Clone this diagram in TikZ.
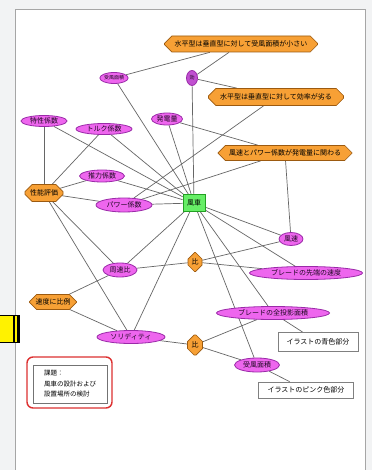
\documentclass[tikz,border=0pt]{standalone}
\usepackage{fontspec}
\setmainfont{Noto Sans CJK JP}
\usepackage{xcolor}
\usetikzlibrary{shapes.geometric}
\usetikzlibrary{shapes.misc}
\usetikzlibrary{backgrounds}

\definecolor{hexfill}{HTML}{F7A035}
\definecolor{hexline}{HTML}{9C5A10}
\definecolor{ellfill}{HTML}{EE66EE}
\definecolor{ellline}{HTML}{9A2AA8}
\definecolor{kouFill}{HTML}{C050D0}
\definecolor{carFill}{HTML}{66EE66}
\definecolor{carLine}{HTML}{22A022}
\definecolor{edgeGrey}{HTML}{666666}
\definecolor{noteRed}{HTML}{DD3030}
\definecolor{paneBack}{HTML}{F2F3F4}

\begin{document}
\begin{tikzpicture}[x=1pt, y=-1pt,
  every node/.style={font=\fontsize{7}{8}\selectfont, inner sep=0pt},
  hexa/.style={chamfered rectangle, chamfered rectangle xsep=4pt,
    chamfered rectangle ysep=4pt, draw=hexline, fill=hexfill, line width=0.7pt},
  oval/.style={ellipse, draw=ellline, fill=ellfill, line width=0.8pt, text=black!80!ellline},
  plain/.style={rectangle, draw=black!50, fill=white, line width=0.7pt},
  link/.style={draw=edgeGrey, line width=0.7pt}]

\useasboundingbox (0,0) rectangle (372,470);

% upper part
\node[hexa, minimum width=153, minimum height=16] (h1) at (241,44) {水平型は垂直型に対して受風面積が小さい};
\node[oval, minimum width=27, minimum height=11, font=\fontsize{5}{6}\selectfont] (aTop) at (114,78) {受風面積};
\node[oval, fill=kouFill, minimum width=11, minimum height=15, font=\fontsize{5}{6}\selectfont] (kou) at (192,78) {効};
\node[hexa, minimum width=135, minimum height=17] (h2) at (276,97) {水平型は垂直型に対して効率が劣る};
\node[oval, minimum width=31, minimum height=12] (hatsu) at (167,119) {発電量};
\node[oval, minimum width=46, minimum height=11] (tokusei) at (44,121) {特性係数};
\node[oval, minimum width=56, minimum height=11] (torque) at (104,129) {トルク係数};
\node[hexa, minimum width=134, minimum height=15] (h3) at (285,153) {風速とパワー係数が発電量に関わる};

% middle part
\node[oval, minimum width=45, minimum height=12] (suiryoku) at (102,176) {推力係数};
\node[hexa, minimum width=38, minimum height=17] (h4) at (44,193) {性能評価};
\node[oval, minimum width=56, minimum height=14] (power) at (124,205) {パワー係数};
\node[rectangle, draw=carLine, fill=carFill, line width=0.8pt, minimum width=22, minimum height=17] (fusha) at (194,203) {風車};
\node[oval, minimum width=24, minimum height=13] (fusoku) at (291,239) {風速};
\node[hexa, minimum width=14, minimum height=19, chamfered rectangle xsep=3pt] (hi1) at (195,262) {比};
\node[oval, minimum width=34, minimum height=14] (shusoku) at (120,270) {周速比};
\node[oval, minimum width=113, minimum height=13] (sentan) at (306,273) {ブレードの先端の速度};

% lower part
\node[hexa, minimum width=47, minimum height=15] (h6) at (53,302) {速度に比例};
\node[oval, minimum width=113, minimum height=13] (zentoei) at (273,313) {ブレードの全投影面積};
\node[oval, minimum width=68, minimum height=13] (solidity) at (131,337) {ソリディティ};
\node[hexa, minimum width=15, minimum height=20, chamfered rectangle xsep=3pt] (hi2) at (195,345) {比};
\node[plain, minimum width=80, minimum height=19] (ao) at (318,342) {イラストの青色部分};
\node[oval, minimum width=45, minimum height=14] (jufu) at (257,365) {受風面積};
\node[plain, minimum width=95, minimum height=16] (pink) at (306,390) {イラストのピンク色部分};

% note
\node[rectangle, rounded corners=6pt, draw=noteRed, line width=1.4pt, minimum width=85, minimum height=51] (noteFrame) at (69.5,382.5) {};
\node[plain, draw=black!55, minimum width=74, minimum height=38, align=left, font=\fontsize{6.5}{10.5}\selectfont] (note) at (70,384) {課題：\\風車の設計および\\設置場所の検討};

% marker at the left edge
\path[draw=black, fill=yellow, line width=1pt] (-1,315) rectangle (19,342);
\path[draw=black, line width=1.4pt] (14,315) -- (14,342);
\path[draw=black, line width=2.4pt] (18.5,315) -- (18.5,342);

\begin{scope}[on background layer]
\fill[paneBack] (0,0) rectangle (372,470);
\path[draw=black!35, fill=white, line width=0.8pt] (15,9) rectangle (365,476);

% connectors
\path[link] (aTop) -- (h1);
\path[link] (kou) -- (h1);
\path[link] (kou) -- (h2);
\path[link] (aTop) -- (fusha);
\path[link] (kou) -- (fusha);
\path[link] (hatsu) -- (fusha);
\path[link] (hatsu) -- (h3);
\path[link] (tokusei) -- (fusha);
\path[link] (tokusei) -- (h4);
\path[link] (torque) -- (fusha);
\path[link] (torque) -- (h4);
\path[link] (h2) -- (power);
\path[link] (h3) -- (power);
\path[link] (h3) -- (fusoku);
\path[link] (suiryoku) -- (fusha);
\path[link] (suiryoku) -- (h4);
\path[link] (power) -- (fusha);
\path[link] (power) -- (h4);
\path[link] (h4) -- (shusoku);
\path[link] (h4) -- (solidity);
\path[link] (fusha) -- (fusoku);
\path[link] (fusha) -- (sentan);
\path[link] (fusha) -- (shusoku);
\path[link] (fusha) -- (solidity);
\path[link] (fusha) -- (zentoei);
\path[link] (fusha) -- (jufu);
\path[link] (shusoku) -- (hi1);
\path[link] (hi1) -- (fusoku);
\path[link] (hi1) -- (sentan);
\path[link] (shusoku) -- (h6);
\path[link] (h6) -- (solidity);
\path[link] (solidity) -- (hi2);
\path[link] (hi2) -- (zentoei);
\path[link] (hi2) -- (jufu);
\path[link] (zentoei) -- (ao);
\path[link] (jufu) -- (pink);
\end{scope}

\end{tikzpicture}
\end{document}
